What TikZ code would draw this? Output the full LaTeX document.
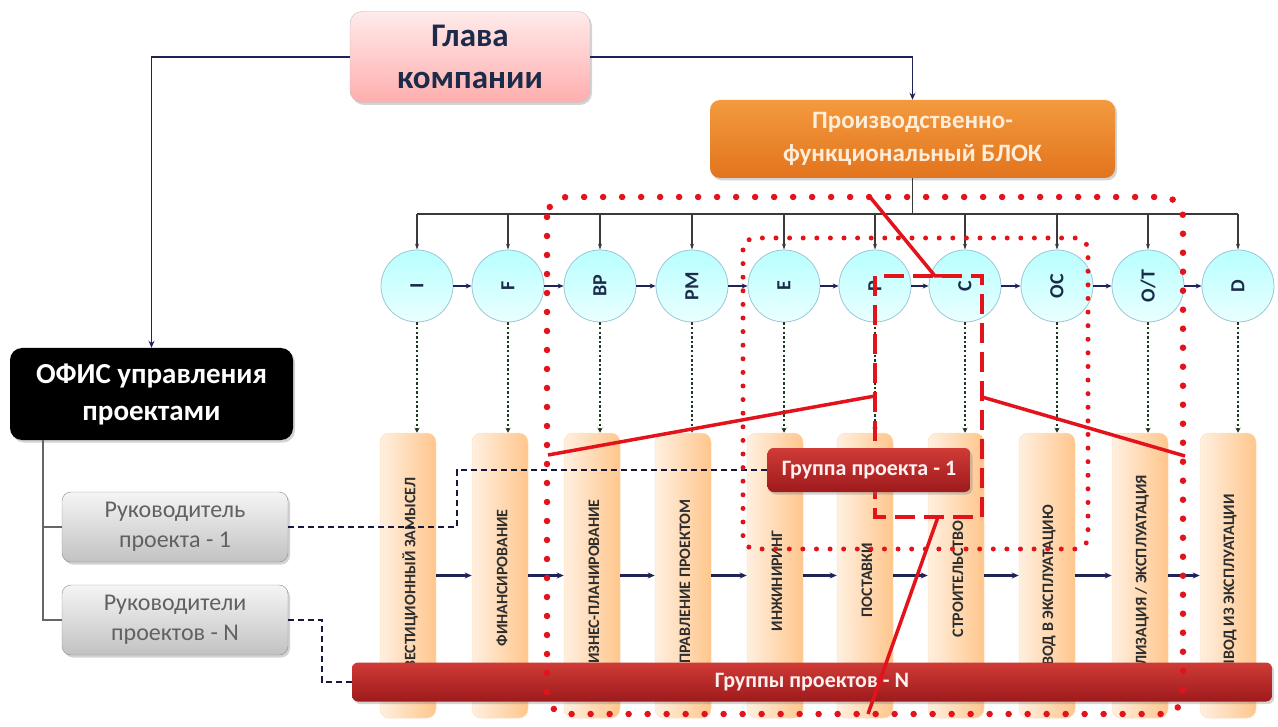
\documentclass[tikz,border=0pt]{standalone}
\usepackage{fontspec}
\setmainfont{Carlito}
\usetikzlibrary{arrows.meta,shadows,calc}
\definecolor{navy}{HTML}{1E2458}
\definecolor{busgray}{HTML}{3A3A3A}
\definecolor{dotgreen}{HTML}{1F3A22}
\definecolor{redline}{HTML}{E3131B}
\definecolor{circborder}{HTML}{9CC6D6}
\definecolor{labelnavy}{HTML}{1C2B4A}
\definecolor{orangetop}{HTML}{F39A3E}
\definecolor{orangebot}{HTML}{E2741E}
\definecolor{teamtop}{HTML}{CF3B36}
\definecolor{teambot}{HTML}{9E1A1C}
\begin{document}
\begin{tikzpicture}[x=1pt,y=-1pt,
  shadowed/.style={drop shadow={shadow xshift=2pt,shadow yshift=-2.5pt,opacity=0.35}},
  headbox/.style={shadowed,rounded corners=12pt,draw=black!25,top color=red!8,bottom color=red!32!white,
    text=labelnavy,font=\fontsize{33}{42}\selectfont\bfseries,align=center,inner sep=0pt,
    minimum width=240pt,minimum height=91pt},
  blockbox/.style={shadowed,rounded corners=10pt,top color=orangetop,bottom color=orangebot,
    draw=none,text=orange!15!white,font=\fontsize{25}{33}\selectfont\bfseries,align=center,inner sep=0pt,
    minimum width=405pt,minimum height=78pt},
  officebox/.style={shadowed,rounded corners=12pt,fill=black,text=white,
    font=\fontsize{29}{37}\selectfont\bfseries,align=center,inner sep=0pt,
    minimum width=283pt,minimum height=92pt},
  managerbox/.style={shadowed,rounded corners=9pt,draw=black!45,top color=black!4,bottom color=black!24,
    text=black!62,font=\fontsize{24}{30}\selectfont,align=center,inner sep=0pt,
    minimum width=226pt,minimum height=70pt},
  phase/.style={circle,draw=circborder,line width=0.8pt,top color=cyan!28!white,bottom color=cyan!8!white,
    minimum size=72pt,inner sep=0pt},
  phasetag/.style={rotate=90,text=labelnavy,font=\fontsize{20}{20}\selectfont\bfseries,inner sep=0pt},
  stage/.style={rounded corners=9pt,draw=orange!25,line width=0.5pt,left color=orange!12!white,right color=orange!45!white,
    minimum width=56pt,minimum height=285pt,inner sep=0pt},
  stagetag/.style={rotate=90,text=black!82,font=\fontsize{16}{16}\selectfont\bfseries,inner sep=0pt},
  teambox/.style={shadowed,rounded corners=6pt,top color=teamtop,bottom color=teambot,
    draw=none,text=red!6!white,font=\fontsize{22}{24}\selectfont\bfseries,inner sep=0pt},
  feed/.style={navy,line width=1.8pt,-{Stealth[length=7pt,width=6pt]}},
  bus/.style={busgray,line width=1.4pt},
  drop/.style={busgray,line width=1.3pt,-{Stealth[length=6pt,width=4pt]}},
  step arrow/.style={navy,line width=2.4pt,-{Stealth[length=6pt,width=5pt]}},
  flow/.style={navy,line width=2.8pt,-{Stealth[length=7pt,width=6pt]}},
  link/.style={dotgreen,line width=2.6pt,dash pattern=on 2.4pt off 2.2pt,-{Stealth[length=5pt,width=5pt]}},
  tree/.style={black!60,line width=1.6pt},
  assign/.style={navy!70!black,line width=1.3pt,dash pattern=on 6pt off 4pt},
  bigdots/.style={redline,line width=6.5pt,line cap=round,dash pattern=on 0pt off 19pt},
  smalldots/.style={redline,line width=5pt,line cap=round,dash pattern=on 0pt off 13.6pt},
  reddash/.style={redline,line width=4pt,dash pattern=on 20pt off 9pt},
  tie/.style={redline,line width=3.5pt}
]
\path[use as bounding box] (0,0) rectangle (1278,727);

% top of the hierarchy
\node[headbox] (head) at (470,57) {Глава\\компании};
\node[blockbox] (block) at (912.5,139) {Производственно-\\функциональный БЛОК};
\node[officebox] (office) at (151.5,394) {ОФИС управления\\проектами};

\draw[feed] (head.west) -| (office.north);
\draw[feed] (head.east) -| (block.north);

% project managers
\node[managerbox] (mgr1) at (175,527) {Руководитель\\проекта - 1};
\node[managerbox] (mgrN) at (175,620) {Руководители\\проектов - N};
\coordinate (trunk) at ($(office.south west)+(33,0)$);
\draw[tree] (trunk) |- (mgr1.west);
\draw[tree] (trunk) |- (mgrN.west);

% functional phases
\node[phase] (cI)  at (417,286)  {}; \node[phasetag] (lI)  at (cI)  {I};
\node[phase] (cF)  at (508,286)  {}; \node[phasetag] (lF)  at (cF)  {F};
\node[phase] (cBP) at (600,286)  {}; \node[phasetag] (lBP) at (cBP) {BP};
\node[phase] (cPM) at (692,286)  {}; \node[phasetag] (lPM) at (cPM) {PM};
\node[phase] (cE)  at (784,286)  {}; \node[phasetag] (lE)  at (cE)  {E};
\node[phase] (cP)  at (875,286)  {}; \node[phasetag] (lP)  at (cP)  {P};
\node[phase] (cC)  at (965,286)  {}; \node[phasetag] (lC)  at (cC)  {C};
\node[phase] (cOC) at (1057,286) {}; \node[phasetag] (lOC) at (cOC) {OC};
\node[phase] (cOT) at (1148,286) {}; \node[phasetag] (lOT) at (cOT) {O/T};
\node[phase] (cD)  at (1238,286) {}; \node[phasetag] (lD)  at (cD)  {D};

% distribution bus from the functional block
\coordinate (busL) at (417,214);
\coordinate (busR) at (1238,214);
\draw[bus] (block.south) -- (block.south |- busL);
\draw[bus] (busL) -- (busR);
\foreach \c in {cI,cF,cBP,cPM,cE,cP,cC,cOC,cOT,cD}
  \draw[drop] (\c.north |- busL) -- (\c.north);

% sequence of phases
\draw[step arrow] (cI.east) -- (cF.west);
\draw[step arrow] (cF.east) -- (cBP.west);
\draw[step arrow] (cBP.east) -- (cPM.west);
\draw[step arrow] (cPM.east) -- (cE.west);
\draw[step arrow] (cE.east) -- (cP.west);
\draw[step arrow] (cP.east) -- (cC.west);
\draw[step arrow] (cC.east) -- (cOC.west);
\draw[step arrow] (cOC.east) -- (cOT.west);
\draw[step arrow] (cOT.east) -- (cD.west);

% project life-cycle stages
\node[stage] (bI)  at (408,575.5)  {};
\node[stage] (bF)  at (500,575.5)  {};
\node[stage] (bBP) at (592,575.5)  {};
\node[stage] (bPM) at (683,575.5)  {};
\node[stage] (bE)  at (775,575.5)  {};
\node[stage] (bP)  at (865,575.5)  {};
\node[stage] (bC)  at (956,575.5)  {};
\node[stage] (bOC) at (1047,575.5) {};
\node[stage] (bOT) at (1140,575.5) {};
\node[stage] (bD)  at (1228,575.5) {};

\node[stagetag] (tI)  at (410,584)  {ИНВЕСТИЦИОННЫЙ ЗАМЫСЕЛ};
\node[stagetag] (tF)  at (502,578)  {ФИНАНСИРОВАНИЕ};
\node[stagetag] (tBP) at (594,586)  {БИЗНЕС-ПЛАНИРОВАНИЕ};
\node[stagetag] (tPM) at (685,586)  {УПРАВЛЕНИЕ ПРОЕКТОМ};
\node[stagetag] (tE)  at (777,581)  {ИНЖИНИРИНГ};
\node[stagetag] (tP)  at (867,580)  {ПОСТАВКИ};
\node[stagetag] (tC)  at (958,579)  {СТРОИТЕЛЬСТВО};
\node[stagetag] (tOC) at (1049,590) {ВВОД В ЭКСПЛУАТАЦИЮ};
\node[stagetag] (tOT) at (1142,584) {УТИЛИЗАЦИЯ / ЭКСПЛУАТАЦИЯ};
\node[stagetag] (tD)  at (1230,588) {ВЫВОД ИЗ ЭКСПЛУАТАЦИИ};

\foreach \c/\b in {cI/bI,cF/bF,cBP/bBP,cPM/bPM,cE/bE,cP/bP,cC/bC,cOC/bOC,cOT/bOT,cD/bD}
  \draw[link] (\c.south) -- (\c.south |- \b.north);

\draw[flow] (bI.east) -- (bF.west);
\draw[flow] (bF.east) -- (bBP.west);
\draw[flow] (bBP.east) -- (bPM.west);
\draw[flow] (bPM.east) -- (bE.west);
\draw[flow] (bE.east) -- (bP.west);
\draw[flow] (bP.east) -- (bC.west);
\draw[flow] (bC.east) -- (bOC.west);
\draw[flow] (bOC.east) -- (bOT.west);
\draw[flow] (bOT.east) -- (bD.west);

% project teams
\node[teambox,minimum width=920pt,minimum height=39pt] (teamN) at (812,682) {Группы проектов - N};
\draw[reddash] (875,276) rectangle (982,517);
\node[teambox,minimum width=203pt,minimum height=44pt] (team1) at (869,470) {Группа проекта - 1};

% assignment of managers to teams
\coordinate (bend1) at (457,527);
\coordinate (bendN) at (322,620);
\draw[assign] (mgr1.east) -- (bend1) |- (team1.west);
\draw[assign] (mgrN.east) -- (bendN) |- (teamN.west);

% scopes of the project teams
\draw[bigdots,rounded corners=20pt] (547,197) rectangle (1183,714);
\draw[smalldots,rounded corners=12pt] (743,238) rectangle (1088,549);

\coordinate (a1) at (870,197);  \coordinate (a2) at (935,276);
\coordinate (b1) at (548,455);  \coordinate (b2) at (875,396);
\coordinate (c1) at (982,397);  \coordinate (c2) at (1185,456);
\coordinate (d1) at (938,517);  \coordinate (d2) at (868,714);
\draw[tie] (a1) -- (a2) -- ++(14,0);
\draw[tie] (b1) -- (b2);
\draw[tie] (c1) -- (c2);
\draw[tie] (d2) -- (d1) -- ++(-12,0);
\end{tikzpicture}
\end{document}
